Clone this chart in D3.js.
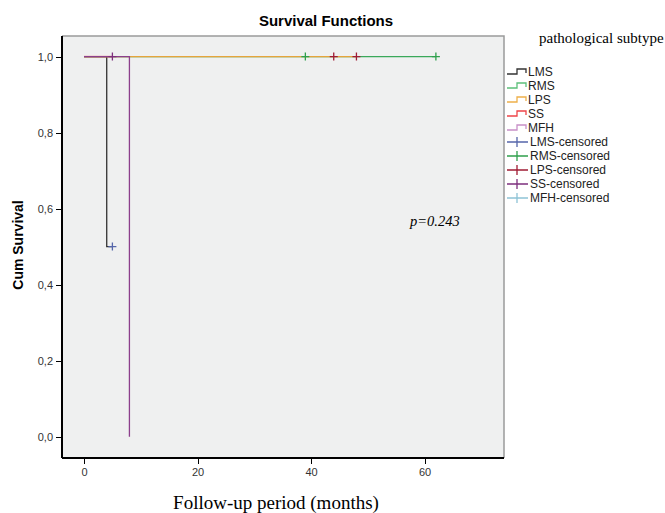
<!DOCTYPE html>
<html lang="en">
<head>
<meta charset="UTF-8">
<title>Survival Functions</title>
<script src="https://cdn.jsdelivr.net/npm/d3@7/dist/d3.min.js"></script>
<style>
    body { margin: 0; background: #fff; }
    .axis path, .axis line { stroke: #000; shape-rendering: crispEdges; }
    .axis text { font-family: Arial, "Liberation Sans", sans-serif; font-size: 11px; fill: #333; }
    .legend text { font-family: Arial, "Liberation Sans", sans-serif; font-size: 12px; fill: #222; }
</style>
</head>
<body>
<script>
// groups and colours
let groups = ['LMS', 'RMS', 'LPS', 'SS', 'MFH'];
let lineColors = ['#333333', '#3aa85a', '#e6a43c', '#e83a3e', '#8c3f8c'];
let legendLineColors = ['#333333', '#5cc07a', '#eeb04a', '#ee4448', '#c890c8'];
let censorColors = ['#5566aa', '#2fa04c', '#a01c34', '#7d2f7d', '#8ec3d6'];

// step curves: time points (months) and cumulative survival
let lmsTimes = [0, 4, 5];
let lmsSurv = [1.0, 0.5, 0.5];
let rmsTimes = [0, 62];
let rmsSurv = [1.0, 1.0];
let lpsTimes = [0, 48];
let lpsSurv = [1.0, 1.0];
let ssTimes = [0, 5];
let ssSurv = [1.0, 1.0];
let mfhTimes = [0, 8];
let mfhSurv = [1.0, 0.0];

// censored observations
let lmsCensored = [5];
let rmsCensored = [39, 62];
let lpsCensored = [44, 48];
let ssCensored = [5];
let mfhCensored = [];

let xTicks = [0, 20, 40, 60];
let yTicks = [0, 0.2, 0.4, 0.6, 0.8, 1.0];

let curves = [
    {times: lmsTimes, surv: lmsSurv, censored: lmsCensored},
    {times: rmsTimes, surv: rmsSurv, censored: rmsCensored},
    {times: lpsTimes, surv: lpsSurv, censored: lpsCensored},
    {times: ssTimes, surv: ssSurv, censored: ssCensored},
    {times: mfhTimes, surv: mfhSurv, censored: mfhCensored}
];

let width = 665, height = 513;
let plot = {left: 62, top: 36, right: 504, bottom: 458};

let svg = d3.select('body').append('svg')
    .attr('width', width)
    .attr('height', height);

let x = d3.scaleLinear().domain([-3.88, 74.0]).range([plot.left, plot.right]);
let y = d3.scaleLinear().domain([-0.056, 1.054]).range([plot.bottom, plot.top]);

// plot background + frame
svg.append('rect')
    .attr('x', plot.left).attr('y', plot.top)
    .attr('width', plot.right - plot.left).attr('height', plot.bottom - plot.top)
    .attr('fill', '#eff0f0');
svg.append('path')
    .attr('d', 'M' + plot.left + ',' + plot.top + 'H' + plot.right + 'V' + plot.bottom)
    .attr('fill', 'none').attr('stroke', '#9a9a9a').attr('stroke-width', 1.5);

// axes
let fmt = function (d) { return d3.format('.1f')(d).replace('.', ','); };
svg.append('g').attr('class', 'axis')
    .attr('transform', 'translate(' + plot.left + ',0)')
    .call(d3.axisLeft(y).tickValues(yTicks).tickFormat(fmt).tickSize(6).tickPadding(3).tickSizeOuter(0))
    .call(g => g.select('.domain').attr('d', 'M0,' + plot.top + 'V' + plot.bottom).attr('stroke-width', 1.5));
svg.append('g').attr('class', 'axis')
    .attr('transform', 'translate(0,' + plot.bottom + ')')
    .call(d3.axisBottom(x).tickValues(xTicks).tickFormat(d3.format('d')).tickSize(6).tickPadding(4).tickSizeOuter(0))
    .call(g => g.select('.domain').attr('d', 'M' + plot.left + ',0H' + plot.right).attr('stroke-width', 1.5));

// survival curves
let stepLine = d3.line()
    .x(d => x(d[0]))
    .y(d => y(d[1]))
    .curve(d3.curveStepAfter);

curves.forEach(function (c, i) {
    let pts = c.times.map((t, k) => [t, c.surv[k]]);
    svg.append('path')
        .attr('d', stepLine(pts))
        .attr('fill', 'none')
        .attr('stroke', lineColors[i])
        .attr('stroke-width', 1.3);
});

// censored marks
function survAt(c, t) {
    let s = c.surv[0];
    c.times.forEach((tt, k) => { if (tt <= t) s = c.surv[k]; });
    return s;
}
curves.forEach(function (c, i) {
    svg.append('g').selectAll('path')
        .data(c.censored)
        .enter()
        .append('path')
        .attr('d', function (t) {
            let cx = x(t), cy = y(survAt(c, t));
            return 'M' + (cx - 4) + ',' + cy + 'H' + (cx + 4) + 'M' + cx + ',' + (cy - 4) + 'V' + (cy + 4);
        })
        .attr('stroke', censorColors[i])
        .attr('stroke-width', 1.3)
        .attr('fill', 'none');
});

// titles
svg.append('text')
    .attr('x', 326).attr('y', 26)
    .attr('text-anchor', 'middle')
    .style('font-family', 'Arial, "Liberation Sans", sans-serif')
    .style('font-size', '15px').style('font-weight', 'bold')
    .text('Survival Functions');

svg.append('text')
    .attr('transform', 'translate(23,245) rotate(-90)')
    .attr('text-anchor', 'middle')
    .style('font-family', 'Arial, "Liberation Sans", sans-serif')
    .style('font-size', '14px').style('font-weight', 'bold')
    .text('Cum Survival');

svg.append('text')
    .attr('x', 276).attr('y', 509)
    .attr('text-anchor', 'middle')
    .style('font-family', '"Liberation Serif", "Times New Roman", serif')
    .style('font-size', '19px')
    .text('Follow-up period (months)');

svg.append('text')
    .attr('x', 410).attr('y', 226)
    .style('font-family', '"Liberation Serif", "Times New Roman", serif')
    .style('font-size', '14.5px').style('font-style', 'italic')
    .text('p=0.243');

// legend
svg.append('text')
    .attr('x', 539).attr('y', 43)
    .style('font-family', '"Liberation Serif", "Times New Roman", serif')
    .style('font-size', '15px')
    .text('pathological subtype');

let legend = svg.append('g').attr('class', 'legend');
let legendY = d3.scalePoint().domain(d3.range(10)).range([72, 198]);

groups.forEach(function (g, i) {
    let ly = legendY(i);
    legend.append('path')
        .attr('d', 'M507,' + (ly + 2) + 'H517V' + (ly - 3) + 'H526V' + (ly + 1))
        .attr('fill', 'none').attr('stroke', legendLineColors[i]).attr('stroke-width', 1.3);
    legend.append('text').attr('x', 528).attr('y', ly + 4).text(g);
});
groups.forEach(function (g, i) {
    let ly = legendY(i + 5);
    legend.append('path')
        .attr('d', 'M507,' + ly + 'H528M517,' + (ly - 5) + 'V' + (ly + 5))
        .attr('fill', 'none').attr('stroke', censorColors[i]).attr('stroke-width', 1.3);
    legend.append('text').attr('x', 530).attr('y', ly + 4).text(g + '-censored');
});
</script>
</body>
</html>
